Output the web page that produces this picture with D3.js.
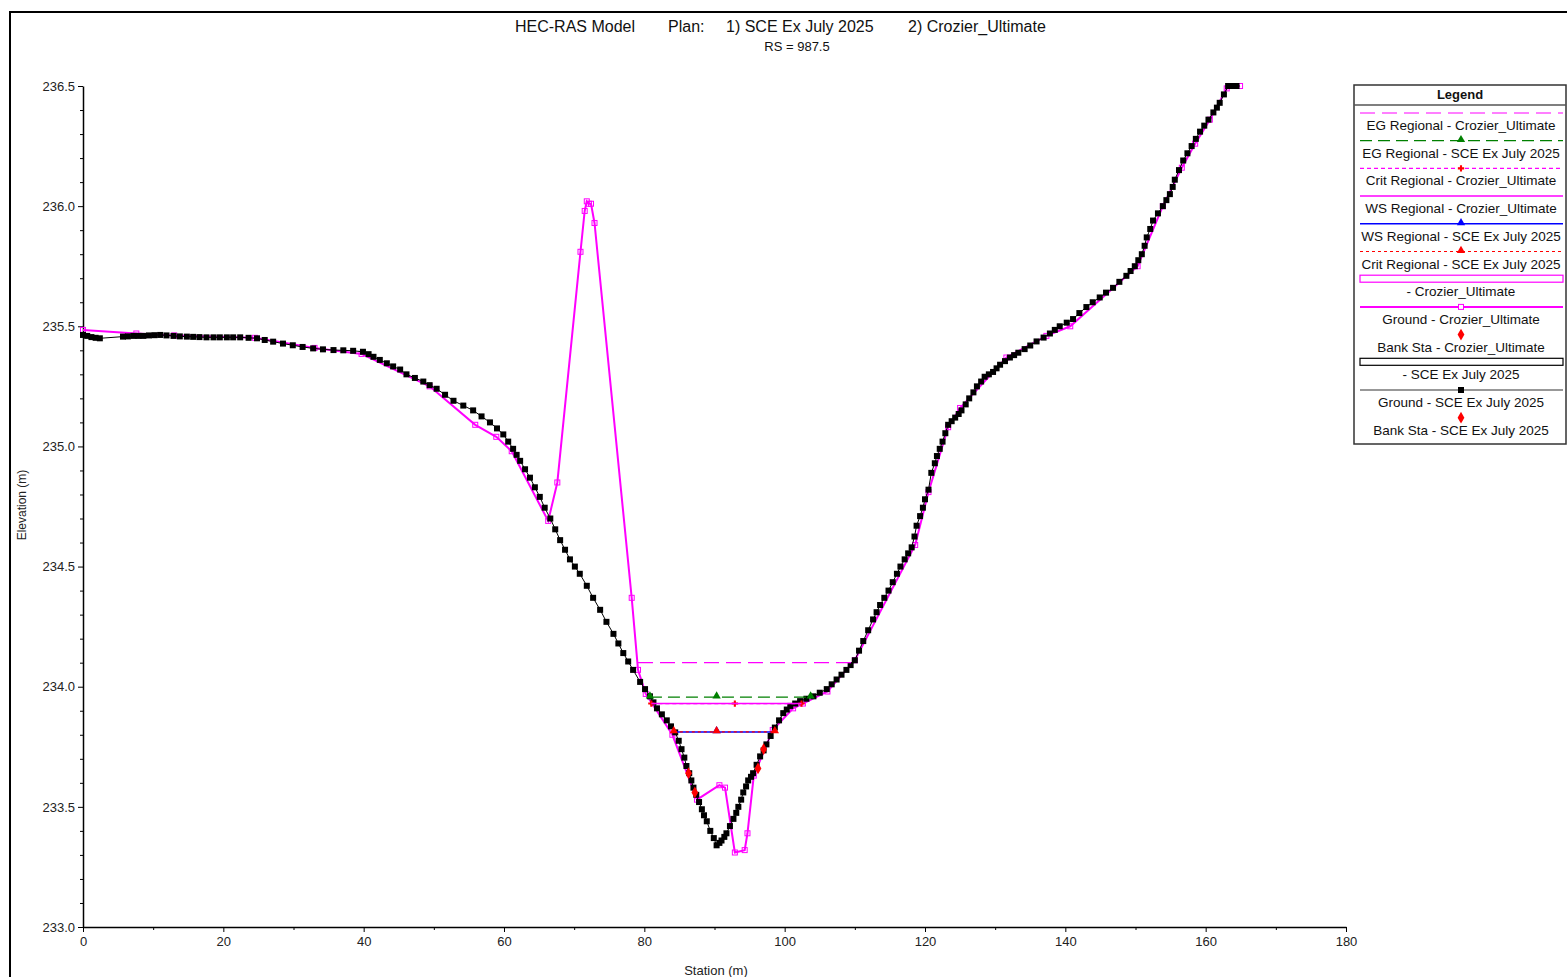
<!DOCTYPE html>
<html><head><meta charset="utf-8">
<script src="https://cdn.jsdelivr.net/npm/d3@7"></script>
<style>
body{margin:0;background:#fff}
svg{display:block}
text{font-family:Arial,"Liberation Sans",sans-serif}
</style>
</head><body>
<svg id="c" width="1567" height="977"></svg>
<script>
// ---------------- DATA ----------------
const xTicks = [0,20,40,60,80,100,120,140,160,180];
const xMinorTicks = [10,30,50,70,90,110,130,150,170];
const yTicks = [233.0,233.5,234.0,234.5,235.0,235.5,236.0,236.5];
const yMinorTicks = [233.1,233.2,233.3,233.4,233.6,233.7,233.8,233.9,234.1,234.2,234.3,234.4,234.6,234.7,234.8,234.9,235.1,235.2,235.3,235.4,235.6,235.7,235.8,235.9,236.1,236.2,236.3,236.4];

const titleParts = ["HEC-RAS Model", "Plan:", "1) SCE Ex July 2025", "2) Crozier_Ultimate"];
const subtitle = "RS = 987.5";
const xLabel = "Station (m)";
const yLabel = "Elevation (m)";

// Ground - SCE Ex July 2025 (read along the plotted marker chain)
const sceStation = [0.0,0.6,1.2,1.8,2.4,5.7,6.4,7.2,7.9,8.6,9.4,10.2,11.0,11.9,12.9,13.8,14.8,15.7,16.6,17.6,18.6,19.5,20.5,21.4,22.4,23.6,24.8,25.9,27.1,28.5,29.9,31.3,32.8,34.2,35.7,37.1,38.5,39.9,40.7,41.4,42.3,43.3,44.2,45.2,46.1,47.3,48.5,49.4,50.4,51.6,52.8,54.2,55.6,56.8,58.0,59.0,59.9,60.6,61.3,61.8,62.3,63.0,63.7,64.4,65.1,65.8,66.6,67.3,68.0,68.7,69.4,70.1,70.8,71.8,72.7,73.7,74.6,75.6,76.3,77.0,77.7,78.4,79.4,80.1,80.8,81.3,81.8,82.5,83.2,83.8,84.4,84.9,85.3,85.7,86.0,86.4,86.7,87.0,87.4,87.8,88.2,88.5,88.9,89.4,89.9,90.3,90.7,91.0,91.4,91.7,92.2,92.7,93.1,93.4,93.8,94.1,94.5,94.8,95.2,95.5,96.0,96.5,97.0,97.4,98.0,98.6,99.2,99.8,100.3,100.8,101.5,102.2,103.1,104.1,105.0,106.0,106.7,107.4,108.1,108.8,109.4,110.0,110.6,111.2,111.9,112.6,113.1,113.6,114.2,114.8,115.4,116.0,116.5,117.1,117.6,118.1,118.5,118.8,119.3,119.7,120.0,120.5,120.9,121.4,121.7,122.1,122.5,122.9,123.3,123.8,124.3,124.8,125.2,125.8,126.3,126.9,127.4,128.0,128.5,129.1,129.7,130.2,130.7,131.4,132.1,132.7,133.3,134.2,135.0,135.9,136.9,137.8,138.5,139.2,140.2,141.1,142.0,143.0,143.9,144.9,145.8,146.8,147.7,148.7,149.3,149.9,150.4,150.9,151.3,151.6,152.1,152.5,153.2,153.9,154.4,154.9,155.3,155.6,156.2,156.8,157.4,158.0,158.6,159.2,159.8,160.4,161.1,161.6,162.0,162.6,163.2,163.8,164.4];
const sceElev = [235.464,235.46,235.455,235.452,235.45,235.457,235.458,235.46,235.46,235.46,235.462,235.463,235.464,235.462,235.46,235.458,235.457,235.456,235.455,235.454,235.454,235.454,235.454,235.454,235.454,235.452,235.45,235.443,235.436,235.428,235.421,235.414,235.408,235.404,235.401,235.40,235.398,235.394,235.384,235.373,235.36,235.346,235.333,235.32,235.30,235.285,235.27,235.255,235.24,235.215,235.19,235.17,235.15,235.125,235.10,235.075,235.05,235.02,234.99,234.965,234.94,234.905,234.87,234.83,234.79,234.745,234.70,234.655,234.61,234.57,234.53,234.50,234.47,234.42,234.37,234.32,234.27,234.22,234.18,234.14,234.105,234.07,234.02,233.99,233.96,233.935,233.91,233.885,233.86,233.835,233.81,233.775,233.74,233.705,233.67,233.64,233.61,233.58,233.55,233.52,233.49,233.465,233.44,233.40,233.37,233.34,233.35,233.36,233.375,233.39,233.42,233.45,233.475,233.50,233.53,233.56,233.585,233.61,233.625,233.64,233.675,233.71,233.735,233.76,233.795,233.83,233.86,233.89,233.905,233.92,233.93,233.94,233.95,233.96,233.975,233.99,234.01,234.03,234.05,234.07,234.09,234.11,234.15,234.19,234.235,234.28,234.31,234.34,234.37,234.40,234.435,234.47,234.50,234.53,234.555,234.58,234.625,234.67,234.71,234.745,234.78,234.82,234.89,234.93,234.96,234.99,235.02,235.055,235.09,235.105,235.12,235.135,235.15,235.175,235.20,235.225,235.25,235.27,235.29,235.30,235.31,235.325,235.34,235.355,235.37,235.38,235.39,235.405,235.42,235.437,235.453,235.47,235.485,235.50,235.515,235.53,235.555,235.58,235.60,235.62,235.64,235.66,235.685,235.71,235.73,235.75,235.775,235.80,235.835,235.87,235.905,235.94,235.97,236.00,236.025,236.05,236.08,236.11,236.15,236.19,236.22,236.25,236.28,236.31,236.335,236.36,236.39,236.41,236.43,236.465,236.50,236.50,236.50];

// Ground - Crozier_Ultimate
const crozStation = [0.0,7.6,13.0,24.5,33.0,39.7,49.4,55.9,58.9,61.1,66.3,67.6,70.9,71.5,71.8,72.1,72.4,72.9,78.2,79.1,80.2,84.0,87.5,90.7,91.5,92.9,94.3,94.7,95.6,98.3,101.2,102.6,106.1,110.0,118.6,120.5,123.3,125.0,131.6,137.3,140.7,150.3,153.9,156.6,158.5,160.6,163.0,164.9];
const crozElev = [235.485,235.47,235.462,235.452,235.41,235.385,235.25,235.09,235.04,234.98,234.69,234.85,235.81,235.98,236.02,236.01,236.01,235.93,234.37,234.07,233.97,233.80,233.53,233.59,233.58,233.31,233.32,233.39,233.63,233.82,233.91,233.93,233.98,234.11,234.59,234.81,235.08,235.16,235.37,235.46,235.50,235.75,236.00,236.16,236.26,236.36,236.49,236.50];

// Bank stations
const bankSceStation = [86.3, 97.0];
const bankSceElev = [233.64, 233.74];
const bankCrozStation = [87.2, 96.2];
const bankCrozElev = [233.56, 233.66];

// Water surface / energy levels
const levelNames = ["EG Regional - Crozier_Ultimate","EG Regional - SCE Ex July 2025","Crit Regional - Crozier_Ultimate","WS Regional - Crozier_Ultimate","WS Regional - SCE Ex July 2025","Crit Regional - SCE Ex July 2025"];
const levelElev = [234.10, 233.957, 233.93, 233.93, 233.812, 233.812];
const levelLeft = [79.1, 80.8, 81.0, 81.0, 84.2, 84.2];
const levelRight = [110.0, 103.7, 102.4, 102.4, 98.6, 98.6];
const levelMarkerSta = [[], [80.8, 90.3, 103.7], [81.0, 92.9, 102.4], [], [90.3], [84.2, 90.3, 98.6]];

const legendNames = ["EG Regional - Crozier_Ultimate","EG Regional - SCE Ex July 2025","Crit Regional - Crozier_Ultimate","WS Regional - Crozier_Ultimate","WS Regional - SCE Ex July 2025","Crit Regional - SCE Ex July 2025","- Crozier_Ultimate","Ground - Crozier_Ultimate","Bank Sta - Crozier_Ultimate","- SCE Ex July 2025","Ground - SCE Ex July 2025","Bank Sta - SCE Ex July 2025"];

// ---------------- STYLES ----------------
const MAG = "#ff00ff", GRN = "#008000", BLU = "#0000ff", RED = "#ff0000";
const levelStyle = [
  {stroke: MAG, dash: "15,7", w: 1.2, marker: null},
  {stroke: GRN, dash: "12,6", w: 1.2, marker: "tri", mcol: GRN},
  {stroke: MAG, dash: "4,3", w: 1.2, marker: "cross", mcol: RED},
  {stroke: MAG, dash: null, w: 1.5, marker: null},
  {stroke: BLU, dash: null, w: 1.5, marker: "tri", mcol: BLU},
  {stroke: RED, dash: "3,3", w: 1.2, marker: "tri", mcol: RED}
];

// ---------------- DRAW ----------------
const svg = d3.select("#c");
const x = d3.scaleLinear().domain([0,180]).range([83,1346]);
const y = d3.scaleLinear().domain([233,236.5]).range([927,86]);

// outer frame
svg.append("path").attr("d","M10,977 L10,12 L1567,12").attr("fill","none").attr("stroke","#000").attr("stroke-width",2);

// Title
const titleX = [515, 668, 726, 908];
titleParts.forEach((t,i)=>{
  svg.append("text").attr("x",titleX[i]).attr("y",32).attr("font-size",16).attr("fill","#111").text(t);
});
svg.append("text").attr("x",797).attr("y",51).attr("text-anchor","middle").attr("font-size",13).attr("fill","#111").text(subtitle);

// axes
function styleAxis(g){
  g.select(".domain").attr("stroke","#000").attr("stroke-width",1.5);
  g.selectAll(".tick line").attr("stroke","#000");
  g.selectAll(".tick text").attr("font-size",13).attr("fill","#222").attr("font-family","Arial, 'Liberation Sans', sans-serif");
}
const gxMinor = svg.append("g").attr("transform","translate(0,927)")
  .call(d3.axisBottom(x).tickValues(xMinorTicks).tickSize(3).tickSizeOuter(0).tickFormat(""));
gxMinor.select(".domain").remove();
gxMinor.selectAll(".tick line").attr("stroke","#000");
const gx = svg.append("g").attr("transform","translate(0,927)")
  .call(d3.axisBottom(x).tickValues(xTicks).tickSize(5).tickSizeOuter(0).tickPadding(5).tickFormat(d3.format("d")));
styleAxis(gx);

const gyMinor = svg.append("g").attr("transform","translate(83,0)")
  .call(d3.axisLeft(y).tickValues(yMinorTicks).tickSize(3).tickSizeOuter(0).tickFormat(""));
gyMinor.select(".domain").remove();
gyMinor.selectAll(".tick line").attr("stroke","#000");
const gy = svg.append("g").attr("transform","translate(83,0)")
  .call(d3.axisLeft(y).tickValues(yTicks).tickSize(5).tickSizeOuter(0).tickPadding(3).tickFormat(d3.format(".1f")));
styleAxis(gy);

svg.append("text").attr("x",716).attr("y",975).attr("text-anchor","middle").attr("font-size",13).attr("fill","#222").text(xLabel);
svg.append("text").attr("transform","translate(26,505) rotate(-90)").attr("text-anchor","middle").attr("font-size",12).attr("fill","#222").text(yLabel);

// ground Crozier
const croz = crozStation.map((s,i)=>[s,crozElev[i]]);
const sce = sceStation.map((s,i)=>[s,sceElev[i]]);
const line = d3.line().x(d=>x(d[0])).y(d=>y(d[1]));

svg.append("path").datum(croz).attr("d",line).attr("fill","none").attr("stroke",MAG).attr("stroke-width",2);
svg.append("g").selectAll("rect").data(croz).join("rect")
  .attr("x",d=>x(d[0])-2.5).attr("y",d=>y(d[1])-2.5).attr("width",5).attr("height",5)
  .attr("fill","none").attr("stroke",MAG).attr("stroke-width",1);

// ground SCE
svg.append("path").datum(sce).attr("d",line).attr("fill","none").attr("stroke","#000").attr("stroke-width",1);
svg.append("g").selectAll("rect").data(sce).join("rect")
  .attr("x",d=>x(d[0])-3).attr("y",d=>y(d[1])-3).attr("width",6).attr("height",6)
  .attr("fill","#000");

// levels
const triSym = d3.symbol().type(d3.symbolTriangle).size(30);
const crossSym = d3.symbol().type(d3.symbolCross).size(22);
levelElev.forEach((e,i)=>{
  const st = levelStyle[i];
  const p = svg.append("line").attr("x1",x(levelLeft[i])).attr("x2",x(levelRight[i]))
    .attr("y1",y(e)).attr("y2",y(e)).attr("stroke",st.stroke).attr("stroke-width",st.w);
  if(st.dash) p.attr("stroke-dasharray",st.dash);
  levelMarkerSta[i].forEach(s=>{
    svg.append("path").attr("d", st.marker==="tri"?triSym():crossSym())
      .attr("transform",`translate(${x(s)},${y(e)-(st.marker==="tri"?1:0)})`)
      .attr("fill",st.mcol);
  });
});

// bank stations
const diaSym = d3.symbol().type(d3.symbolDiamond).size(40);
bankCrozStation.forEach((s,i)=>{
  svg.append("path").attr("d",diaSym()).attr("transform",`translate(${x(s)},${y(bankCrozElev[i])})`).attr("fill",RED);
});
bankSceStation.forEach((s,i)=>{
  svg.append("path").attr("d",diaSym()).attr("transform",`translate(${x(s)},${y(bankSceElev[i])})`).attr("fill",RED);
});

// ---------------- LEGEND ----------------
const L = svg.append("g");
const lx0 = 1354, lx1 = 1566, ly0 = 85, ly1 = 444;
L.append("rect").attr("x",lx0).attr("y",ly0).attr("width",lx1-lx0).attr("height",ly1-ly0).attr("fill","#fff").attr("stroke","#333").attr("stroke-width",1.5);
L.append("line").attr("x1",lx0).attr("x2",lx1).attr("y1",105).attr("y2",105).attr("stroke","#555").attr("stroke-width",1.5);
L.append("text").attr("x",1460).attr("y",99).attr("text-anchor","middle").attr("font-size",13).attr("font-weight","bold").attr("fill","#111").text("Legend");
const sx0 = 1360, sx1 = 1563, sxm = 1461;
const step = 27.7;
legendNames.forEach((name,i)=>{
  const sy = 113 + i*step;
  const ty = sy + 17;
  if(i<6){
    const st = levelStyle[i];
    const l = L.append("line").attr("x1",sx0).attr("x2",sx1).attr("y1",sy).attr("y2",sy).attr("stroke",st.stroke).attr("stroke-width",st.w);
    if(st.dash) l.attr("stroke-dasharray",st.dash);
    if(st.marker) L.append("path").attr("d",st.marker==="tri"?triSym():crossSym()).attr("transform",`translate(${sxm},${sy-(st.marker==="tri"?1:0)})`).attr("fill",st.mcol);
  } else if(i===6 || i===9){
    L.append("rect").attr("x",sx0).attr("y",sy-4).attr("width",sx1-sx0).attr("height",7).attr("fill","#fff").attr("stroke",i===6?MAG:"#000").attr("stroke-width",1.2);
  } else if(i===7){
    L.append("line").attr("x1",sx0).attr("x2",sx1).attr("y1",sy).attr("y2",sy).attr("stroke",MAG).attr("stroke-width",2);
    L.append("rect").attr("x",sxm-2.5).attr("y",sy-2.5).attr("width",5).attr("height",5).attr("fill","#fff").attr("stroke",MAG);
  } else if(i===10){
    L.append("line").attr("x1",sx0).attr("x2",sx1).attr("y1",sy).attr("y2",sy).attr("stroke","#333").attr("stroke-width",1.2);
    L.append("rect").attr("x",sxm-3).attr("y",sy-3).attr("width",6).attr("height",6).attr("fill","#000");
  } else {
    L.append("path").attr("d",diaSym()).attr("transform",`translate(${sxm},${sy})`).attr("fill",RED);
  }
  L.append("text").attr("x",sxm).attr("y",ty).attr("text-anchor","middle").attr("font-size",13.5).attr("fill","#111").text(name);
});
</script>
</body></html>
